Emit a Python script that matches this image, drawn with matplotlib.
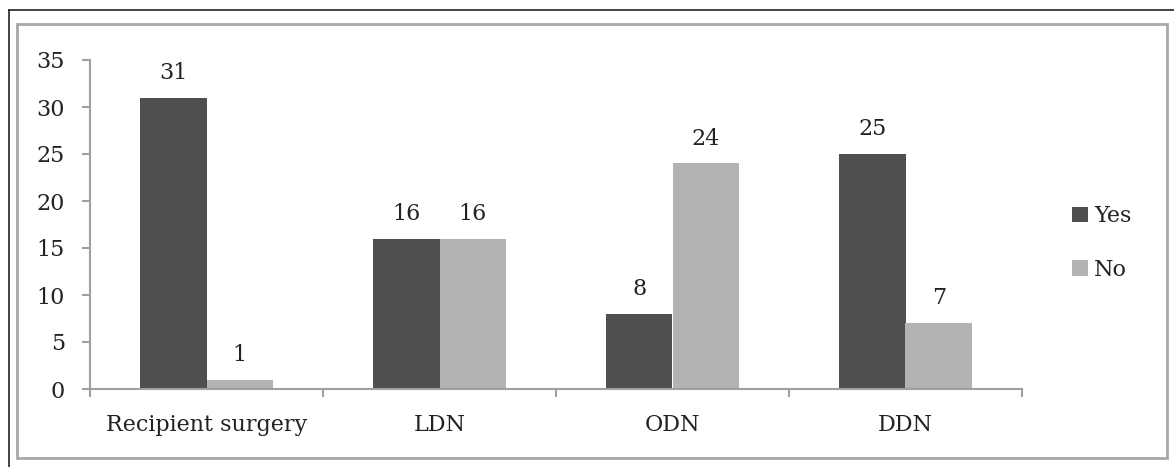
import matplotlib
matplotlib.use("Agg")
import matplotlib.pyplot as plt
import numpy as np
from matplotlib.patches import Rectangle
from matplotlib.lines import Line2D

categories = ["Recipient surgery", "LDN", "ODN", "DDN"]
yes_vals = [31, 16, 8, 25]
no_vals = [1, 16, 24, 7]
series_names = ["Yes", "No"]
yticks = [0, 5, 10, 15, 20, 25, 30, 35]

plt.rcParams['font.family'] = ['DejaVu Serif']
FS = 16

W, H = 1174, 467
fig = plt.figure(figsize=(W / 100, H / 100), dpi=100)

# borders
fig.add_artist(Line2D([9 / W, 1.0], [1 - 10 / H, 1 - 10 / H], color='#222222', lw=1.2, transform=fig.transFigure))
fig.add_artist(Line2D([9 / W, 9 / W], [0, 1 - 10 / H], color='#222222', lw=1.2, transform=fig.transFigure))
fig.add_artist(Rectangle((17 / W, 1 - 458 / H), (1167 - 17) / W, (458 - 24) / H, fill=False,
                         edgecolor='#a8a8a8', lw=2.0, transform=fig.transFigure))

ax = fig.add_axes([90 / W, 1 - 389 / H, (1022 - 90) / W, (389 - 60) / H])

x = np.arange(len(categories))
bw = 0.285
dark = '#4f4f4f'
light = '#b3b3b3'
b1 = ax.bar(x - bw / 2, yes_vals, bw, color=dark, label=series_names[0])
b2 = ax.bar(x + bw / 2, no_vals, bw, color=light, label=series_names[1])

for bars in (b1, b2):
    for r in bars:
        ax.annotate(f"{int(r.get_height())}", (r.get_x() + r.get_width() / 2, r.get_height()),
                    xytext=(0, 13.5), textcoords='offset points', ha='center', va='baseline',
                    fontsize=FS, color='#222222')

ax.set_xlim(-0.5, len(categories) - 0.5)
ax.set_ylim(0, 35)
ax.set_yticks(yticks)
ax.set_xticks(x)
ax.set_xticklabels(categories)
ax.set_xticks(np.arange(-0.5, len(categories)), minor=True)

for s in ('top', 'right'):
    ax.spines[s].set_visible(False)
for s in ('left', 'bottom'):
    ax.spines[s].set_color('#a0a0a0')
    ax.spines[s].set_linewidth(1.5)

ax.tick_params(axis='y', length=6, width=1.5, color='#a0a0a0', labelsize=FS, labelcolor='#222222', pad=12)
ax.tick_params(axis='x', which='major', length=0, labelsize=FS, labelcolor='#222222', pad=18)
ax.tick_params(axis='x', which='minor', length=6, width=1.5, color='#a0a0a0')

leg = ax.legend(loc='center left', bbox_to_anchor=(1072 / W, 1 - 243 / H), bbox_transform=fig.transFigure,
                frameon=False, fontsize=FS, handlelength=0.7, handleheight=0.7, handletextpad=0.3,
                labelspacing=1.4, borderpad=0, borderaxespad=0)
for t in leg.get_texts():
    t.set_color('#222222')

fig.savefig("out.png", dpi=100)
